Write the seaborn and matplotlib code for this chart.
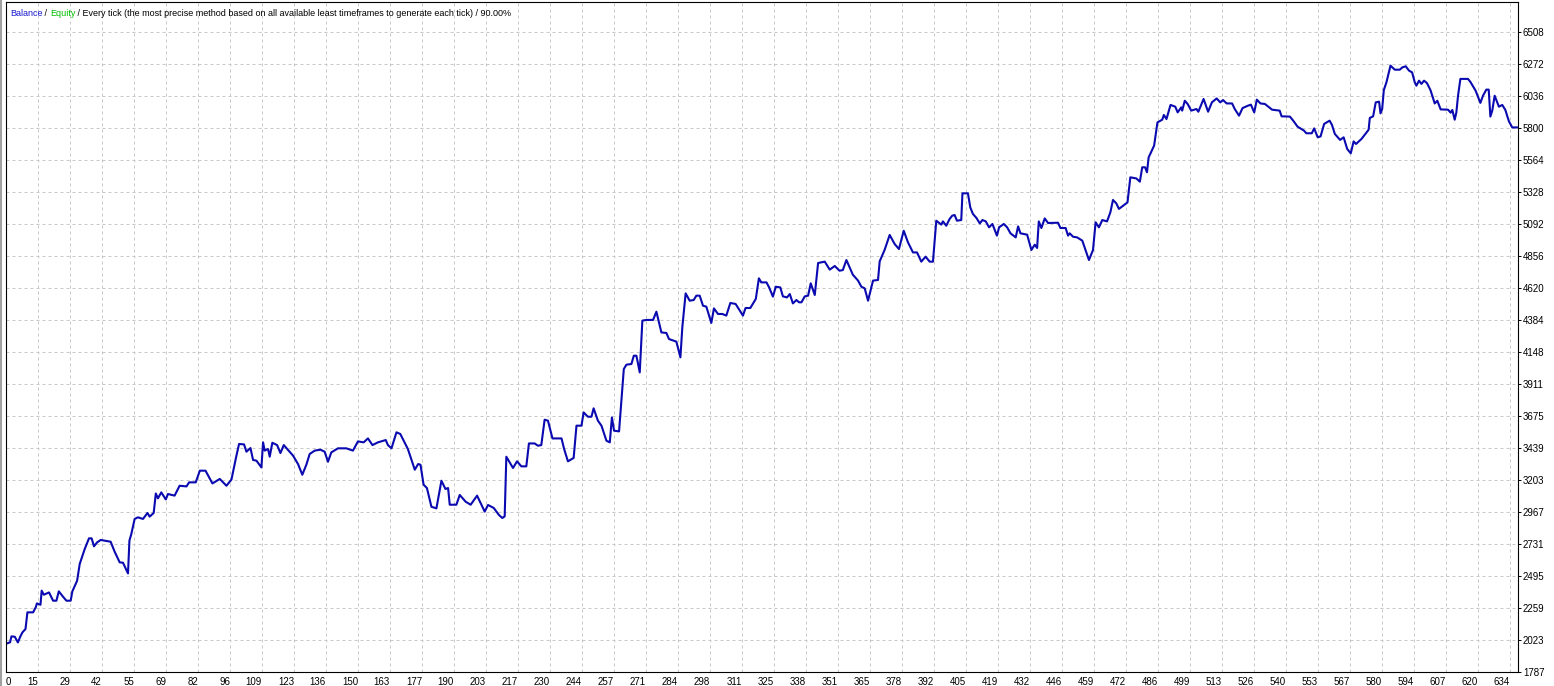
import numpy as np
import seaborn as sns
import matplotlib.pyplot as plt
from matplotlib.lines import Line2D

# balance curve (trade number, balance)
trade_no = [
    0, 1.7, 2.3, 3.7, 5.0, 6.0, 6.9, 8.2, 9.0, 11.4, 12.5, 13.0, 14.5, 15.0, 15.9, 18.1, 19.8, 21.2,
    22.2, 24.0, 25.4, 27.2, 27.9, 29.9, 31.0, 33.1, 34.9, 36.0, 37.0, 38.3, 39.8, 44.0, 45.7, 47.8,
    49.2, 51.3, 51.9, 52.7, 54.1, 55.5, 57.6, 59.5, 60.4, 62.1, 63.0, 63.9, 65.3, 67.2, 68.1, 70.9,
    73.0, 75.9, 77.0, 79.8, 81.5, 83.9, 86.8, 89.9, 92.7, 94.8, 96.9, 98.0, 100.1, 101.1, 102.8,
    103.9, 105.3, 107.4, 108.1, 108.8, 110.2, 110.9, 112.0, 114.0, 115.4, 116.8, 120.7, 122.8,
    124.6, 126.3, 127.7, 129.8, 132.2, 134.0, 135.4, 136.8, 139.6, 143.1, 145.9, 148.0, 150.4,
    152.2, 154.1, 156.4, 159.7, 160.6, 162.1, 164.2, 165.8, 169.0, 171.9, 173.3, 174.3, 175.6,
    177.0, 178.9, 181.0, 183.1, 184.8, 185.9, 186.6, 189.4, 190.8, 193.3, 195.4, 198.1, 201.3,
    202.7, 205.1, 207.3, 208.7, 209.7, 210.4,
    213.2, 214.9, 216.7, 218.8, 219.9, 222.3, 223.7, 225.1, 226.5, 227.9, 229.8, 233.6, 234.7,
    236.3, 238.7, 239.9, 242.0, 242.9, 244.7, 246.2, 247.1, 248.9, 250.4, 252.5, 253.9, 254.8,
    255.7, 257.8, 259.8, 260.9, 263.0, 264.0, 265.1, 266.5, 267.6, 269.3, 272.1, 273.5, 275.6,
    277.7, 278.8, 281.9, 283.6, 284.4, 285.8, 287.5, 289.2, 290.3, 291.7, 293.1, 294.5, 296.6,
    297.7, 299.4, 301.2, 302.9, 304.6, 306.8, 309.9, 311.0, 313.0, 315.3, 316.6, 317.6, 319.8,
    320.9, 322.5, 323.7, 325.6, 326.7, 328.4, 329.6, 330.9, 332.4, 333.5, 334.5, 335.9, 337.3,
    338.4, 340.1, 341.5, 344.3, 346.4, 348.5, 350.5, 351.9, 353.4, 356.1, 358.3, 359.7, 361.1,
    362.5, 364.6, 366.7, 367.4, 369.5, 371.6, 373.7, 375.5, 377.5, 379.3, 381.4, 383.1, 384.9,
    386.7, 388.4, 389.8, 390.5, 391.2, 393.3, 394.0, 395.4, 396.8, 397.9, 398.9, 399.9, 401.7,
    402.2, 404.5, 405.5, 406.6, 408.1, 409.5, 410.6, 412.0, 413.4, 414.8, 416.7, 417.6, 419.6,
    421.0, 422.4, 424.6, 425.6, 426.6, 429.4, 431.2, 432.6, 433.6, 434.3, 435.4, 436.8, 438.2,
    442.4, 443.4, 445.6, 446.6, 447.3, 448.7, 450.4, 452.6, 454.3, 455.4, 457.1, 458.2, 459.6,
    461.0, 463.0, 464.4, 465.5, 466.9, 468.0, 471.6, 472.8, 475.3, 476.8, 477.8, 479.0, 479.8,
    480.5, 482.8, 484.2, 486.2, 486.9, 488.0, 489.7, 491.7, 492.7, 494.2, 494.6, 495.7, 496.9,
    498.4, 500.6, 501.4, 503.6, 505.5, 507.1, 509.1, 510.6, 511.8, 513.3, 515.6, 516.7, 518.5,
    520.0, 522.2, 523.5, 524.9, 526.0, 527.5, 529.4, 532.4, 535.6, 536.4, 539.9, 541.3, 543.1,
    545.8, 546.8, 549.1, 550.1, 551.6, 552.8, 554.3, 556.6, 557.6, 558.8, 561.0, 562.5, 564.0,
    565.5, 566.7, 567.7, 570.0, 573.0, 573.5, 574.9, 576.0, 577.4, 578.0, 578.7, 579.4, 580.5,
    582.2, 584.0, 586.1, 587.2, 588.6, 590.0, 591.3, 592.4, 593.1, 594.2, 595.2, 596.3, 597.5,
    599.0, 600.8, 601.9, 603.3, 606.4, 607.5, 608.2, 609.2, 609.9, 610.6, 611.6, 614.8, 615.9,
    618.0, 620.0, 621.1, 622.5, 623.5, 624.2, 625.0, 626.0, 627.1, 627.8, 629.2, 630.5, 632.0,
    633.4, 635.8,
]
balance = [
    1995, 2006, 2050, 2047, 2005, 2048, 2079, 2104, 2227, 2227, 2264, 2293, 2283, 2387, 2357, 2374, 2313, 2313,
    2382, 2342, 2313, 2313, 2382, 2460, 2584, 2694, 2773, 2773, 2714, 2743, 2761, 2748, 2674, 2596,
    2593, 2514, 2756, 2805, 2916, 2928, 2916, 2960, 2933, 2960, 3104, 3068, 3112, 3060, 3100, 3088,
    3161, 3156, 3186, 3186, 3272, 3272, 3178, 3211, 3161, 3206, 3383, 3469, 3466, 3412, 3439,
    3351, 3346, 3296, 3481, 3420, 3432, 3375, 3478, 3461, 3402, 3461, 3383, 3321,
    3242, 3316, 3395, 3420, 3427, 3412, 3338, 3407, 3437, 3437, 3420, 3488, 3481,
    3510, 3461, 3481, 3498, 3461, 3437, 3555, 3543, 3432, 3279, 3321, 3316, 3169,
    3144, 3006, 2994, 3198, 3137, 3144, 3021, 3021, 3093, 3043, 3021, 3088, 2970,
    3019, 2997, 2945, 2923, 2935, 3375,
    3292, 3341, 3304, 3304, 3473, 3473, 3456, 3461, 3648, 3641, 3510, 3510, 3432,
    3341, 3366, 3604, 3604, 3702, 3670, 3670, 3732, 3641, 3604, 3493, 3481, 3665,
    3567, 3562, 4022, 4054, 4059, 4120, 4120, 3997, 4379, 4384, 4384, 4445, 4292,
    4288, 4243, 4224, 4108, 4329, 4580, 4526, 4531, 4563, 4563, 4489, 4482, 4362,
    4469, 4428, 4428, 4416, 4509, 4502, 4416, 4472, 4472, 4539, 4691, 4661, 4661,
    4624, 4556, 4629, 4624, 4558, 4550, 4575, 4506, 4531, 4514, 4514, 4558, 4563,
    4654, 4568, 4804, 4814, 4755, 4782, 4747, 4752, 4826, 4718, 4674, 4629, 4617,
    4526, 4674, 4679, 4816, 4902, 5011, 4944, 4907, 5042, 4956, 4882, 4882, 4814,
    4851, 4814, 4814, 4968, 5116, 5087, 5111, 5079, 5129, 5153, 5158, 5116, 5121,
    5318, 5318, 5214, 5166, 5136, 5096, 5121, 5111, 5067, 5092, 5006, 5067, 5092,
    5067, 5023, 4993, 5074, 5023, 5013, 4900, 4939, 4915, 5111, 5062, 5133, 5099,
    5101, 5062, 5062, 5006, 5023, 4998, 4993, 4969, 4882, 4826, 4900, 5104, 5067,
    5121, 5111, 5178, 5269, 5244, 5203, 5251, 5436, 5428, 5404, 5510, 5510, 5473,
    5583, 5670, 5841, 5861, 5896, 5866, 5970, 5957, 5915, 5952, 5928, 6001, 5977,
    5928, 5940, 5920, 6014, 5920, 5989, 6018, 5989, 6006, 5981, 5981, 5940, 5891,
    5947, 5964, 5972, 5915, 6009, 5981, 5977, 5935, 5928, 5886, 5884, 5854, 5810,
    5781, 5761, 5761, 5797, 5731, 5738, 5830, 5854, 5822, 5756, 5712, 5731, 5645,
    5613, 5701, 5682, 5719, 5787, 5874, 5886, 5989, 5994, 5908, 5940, 6080, 6137,
    6260, 6230, 6230, 6247, 6255, 6223, 6210, 6137, 6112, 6149, 6125, 6149, 6132,
    6080, 5981, 6001, 5937, 5935, 5913, 5933, 5861, 5915, 6038, 6162, 6162, 6137,
    6075, 5985, 6038, 6083, 6083, 5884, 5928, 6038, 5989, 5957, 5970, 5933, 5849,
    5804, 5804,
]

xtick_labels = ['0', '15', '29', '42', '55', '69', '82', '96', '109', '123', '136', '150', '163', '177',
                '190', '203', '217', '230', '244', '257', '271', '284', '298', '311', '325', '338', '351',
                '365', '378', '392', '405', '419', '432', '446', '459', '472', '486', '499', '513', '526',
                '540', '553', '567', '580', '594', '607', '620', '634']
ytick_labels = ['1787', '2023', '2259', '2495', '2731', '2967', '3203', '3439', '3675', '3911', '4148',
                '4384', '4620', '4856', '5092', '5328', '5564', '5800', '6036', '6272', '6508']

title_parts = [('Balance', '#1a1ad0'), (' / ', 'black'), ('Equity', '#00c000'),
               (' / Every tick (the most precise method based on all available least timeframes '
                'to generate each tick) / 90.00%', 'black')]

sns.set_style('white')
plt.rcParams['font.family'] = ['Liberation Sans', 'DejaVu Sans']

W, H = 1554, 686
fig = plt.figure(figsize=(W / 100, H / 100), dpi=100)
# plot box in pixels: x 6..1518, y 2..672
ax = fig.add_axes([6 / W, 14 / H, 1512 / W, 670 / H])

x_step = 13.4565   # trades per grid cell (32 px)
y_step = 236.05    # balance per grid cell (32 px)

sns.lineplot(x=trade_no, y=balance, ax=ax, color='#0a0ab0', linewidth=1.5,
             sort=False, estimator=None)

ax.set_xlim(0, 1512 / 32 * x_step)
ax.set_ylim(1787, 1787 + 670 / 32 * y_step)

ax.set_xticks(np.arange(len(xtick_labels)) * x_step)
ax.set_xticklabels(xtick_labels)
ax.set_yticks(1787 + np.arange(len(ytick_labels)) * y_step)
ax.set_yticklabels(ytick_labels)

ax.yaxis.tick_right()
ax.tick_params(axis='both', direction='out', length=2, width=0.7, colors='black',
               labelsize=7, pad=1.5)
for i, lbl in enumerate(ax.get_xticklabels()):
    lbl.set_ha('left' if i == 0 else 'right')

ax.grid(True, color='#c8c8c8', linestyle=(0, (3, 3)), linewidth=0.72)
for s in ax.spines.values():
    s.set_visible(True)
    s.set_color('black')
    s.set_linewidth(0.8)
ax.set_xlabel('')
ax.set_ylabel('')

# multi-coloured header line inside the chart
prev = None
for txt, col in title_parts:
    if prev is None:
        prev = fig.text(10 / W, 1 - 13 / H, txt, color=col, fontsize=6.5, va='center', ha='left')
    else:
        prev = ax.annotate(txt, xy=(1, 0), xycoords=prev, color=col, fontsize=6.5,
                           va='bottom', ha='left')

fig.add_artist(Line2D([0.0005, 0.0005], [0, 1], color='#a0a0a0', linewidth=1.5,
                      transform=fig.transFigure))

fig.savefig('out.png', dpi=100)
